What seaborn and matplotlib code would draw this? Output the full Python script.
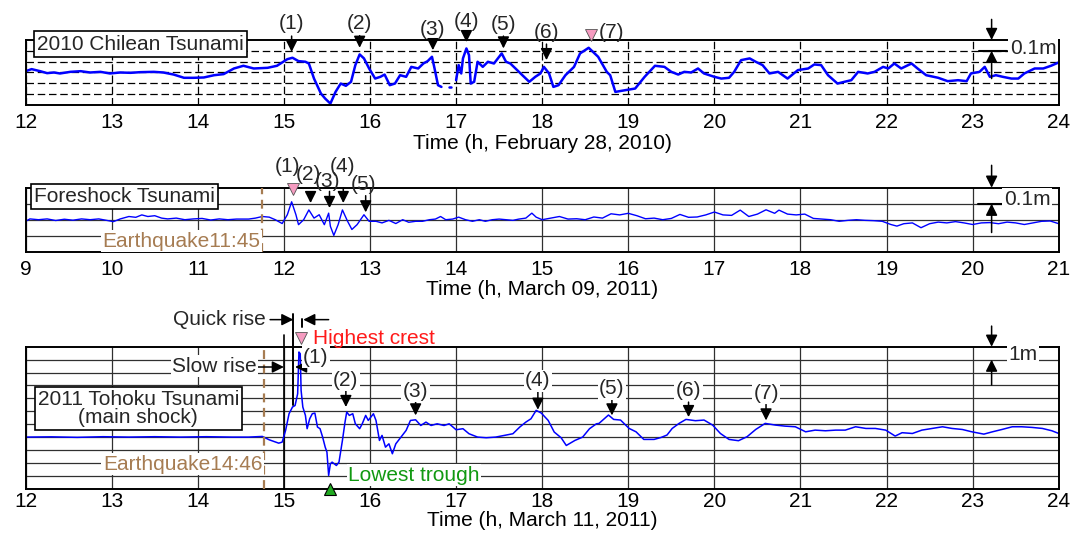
import numpy as np
import pandas as pd
import matplotlib
matplotlib.use("Agg")
import matplotlib.pyplot as plt
import seaborn as sns

# ---------------- data (hours, metres) ----------------
chile_t = [12.00, 12.07, 12.17, 12.25, 12.33, 12.40, 12.52, 12.64, 12.75, 12.87,
           12.98, 13.10, 13.22, 13.33, 13.49, 13.60, 13.72, 13.84, 13.95, 14.07,
           14.19, 14.30, 14.42, 14.53, 14.65, 14.81, 14.92, 15.04, 15.10, 15.17,
           15.25, 15.29, 15.35, 15.43, 15.48, 15.54, 15.60, 15.66, 15.72, 15.78,
           15.83, 15.88, 15.93, 15.99, 16.06, 16.12, 16.17, 16.23, 16.29, 16.35,
           16.42, 16.48, 16.56, 16.62, 16.67, 16.72, 16.75, 16.79, 16.83, 16.87,
           16.92, 16.94, 16.96, 17.00, 17.03, 17.06, 17.08, 17.12, 17.15, 17.17,
           17.21, 17.25, 17.31, 17.37, 17.44, 17.53, 17.58, 17.63, 17.69, 17.77,
           17.85, 17.92, 17.98, 18.02, 18.08, 18.13, 18.19, 18.27, 18.37, 18.44,
           18.54, 18.65, 18.75, 18.79, 18.85, 18.96, 19.08, 19.19, 19.31, 19.42,
           19.50, 19.58, 19.65, 19.73, 19.81, 19.88, 20.00, 20.08, 20.17, 20.23,
           20.31, 20.41, 20.48, 20.56, 20.64, 20.74, 20.85, 20.97, 21.09, 21.16,
           21.24, 21.32, 21.43, 21.51, 21.59, 21.67, 21.78, 21.86, 21.96, 22.02,
           22.09, 22.17, 22.29, 22.36, 22.46, 22.60, 22.71, 22.83, 22.93, 22.98,
           23.08, 23.14, 23.20, 23.27, 23.35, 23.45, 23.53, 23.60, 23.72, 23.82,
           23.91, 24.00]
chile_v = [0.012, 0.031, 0.012, -0.006, 0.000, -0.009, 0.006, 0.012, 0.000, 0.006,
           -0.009, 0.000, -0.003, 0.003, 0.006, 0.000, -0.019, -0.049, -0.049, -0.046,
           -0.025, -0.015, 0.037, 0.062, 0.037, 0.043, 0.062, 0.123, 0.136, 0.105,
           0.099, 0.083, -0.056, -0.194, -0.241, -0.287, -0.179, -0.102, -0.123, -0.086,
           0.068, 0.167, 0.130, 0.037, -0.056, -0.040, -0.019, -0.117, -0.102, -0.025,
           -0.040, 0.052, 0.037, 0.083, 0.105, 0.145, 0.037, -0.117, -0.133, np.nan,
           -0.133, -0.133, np.nan, -0.071, 0.068, -0.009, 0.130, 0.222, 0.160, -0.102,
           -0.086, 0.099, 0.052, 0.099, 0.083, 0.176, 0.099, 0.083, 0.037, -0.025,
           -0.086, -0.040, -0.009, 0.052, -0.009, -0.133, -0.117, -0.025, 0.052, 0.176,
           0.228, 0.145, 0.006, -0.025, -0.179, -0.164, -0.148, -0.040, 0.062, 0.052,
           0.006, -0.019, 0.006, 0.000, 0.037, -0.009, -0.040, -0.056, -0.049, 0.006,
           0.114, 0.130, 0.099, 0.068, -0.009, 0.006, -0.056, 0.022, 0.037, 0.074,
           0.068, -0.025, -0.102, -0.086, -0.071, 0.006, -0.009, 0.006, 0.052, 0.037,
           0.083, 0.037, 0.083, 0.037, -0.025, -0.049, -0.080, -0.071, -0.080, -0.009,
           0.006, 0.052, -0.040, -0.025, -0.040, -0.056, -0.056, -0.009, 0.037, 0.037,
           0.062, 0.093]

fore_t = [9.00, 9.05, 9.15, 9.25, 9.35, 9.45, 9.55, 9.65, 9.75, 9.85,
          9.95, 10.02, 10.10, 10.20, 10.28, 10.35, 10.42, 10.50, 10.58, 10.65,
          10.75, 10.85, 10.95, 11.05, 11.15, 11.25, 11.35, 11.45, 11.59, 11.67,
          11.75, 11.83, 11.90, 11.98, 12.04, 12.09, 12.14, 12.17, 12.23, 12.29,
          12.35, 12.41, 12.47, 12.52, 12.54, 12.58, 12.63, 12.68, 12.74, 12.79,
          12.85, 12.93, 12.99, 13.07, 13.14, 13.22, 13.30, 13.38, 13.45, 13.53,
          13.61, 13.69, 13.76, 13.82, 13.88, 13.96, 14.03, 14.11, 14.19, 14.27,
          14.34, 14.42, 14.50, 14.58, 14.66, 14.73, 14.81, 14.88, 14.93, 15.00,
          15.10, 15.20, 15.30, 15.40, 15.50, 15.60, 15.70, 15.80, 15.90, 16.00,
          16.10, 16.20, 16.30, 16.40, 16.50, 16.60, 16.70, 16.80, 16.90, 17.00,
          17.10, 17.20, 17.30, 17.40, 17.50, 17.60, 17.70, 17.75, 17.85, 17.95,
          18.05, 18.15, 18.25, 18.35, 18.45, 18.55, 18.65, 18.75, 18.85, 18.95,
          19.05, 19.12, 19.20, 19.30, 19.40, 19.50, 19.60, 19.70, 19.80, 19.90,
          20.00, 20.10, 20.20, 20.30, 20.40, 20.50, 20.60, 20.70, 20.80, 20.90, 21.00]
fore_v = [-0.010, 0.005, 0.000, 0.005, -0.005, 0.003, -0.003, 0.005, 0.000, 0.005,
          -0.005, -0.012, 0.005, 0.020, 0.015, 0.030, 0.020, 0.025, 0.010, 0.005,
          0.010, 0.000, 0.005, 0.008, -0.002, 0.005, 0.000, 0.004, 0.004, 0.010,
          0.020, 0.016, 0.000, -0.024, 0.031, 0.112, 0.031, -0.031, 0.000, 0.061,
          0.010, 0.031, -0.031, 0.041, -0.041, -0.098, -0.031, 0.061, -0.010, -0.061,
          -0.031, 0.031, -0.010, -0.010, -0.020, -0.004, -0.024, 0.000, -0.016, -0.010,
          -0.010, 0.000, 0.004, 0.020, 0.000, 0.004, 0.016, 0.000, -0.010, 0.000,
          -0.010, 0.000, 0.004, 0.000, -0.004, 0.004, 0.010, 0.041, 0.016, 0.000,
          0.010, 0.020, 0.004, 0.006, 0.000, 0.017, 0.010, 0.037, 0.030, 0.040,
          0.025, 0.006, 0.010, 0.000, 0.008, 0.033, 0.015, 0.017, 0.030, 0.048,
          0.030, 0.027, 0.060, 0.020, 0.035, 0.062, 0.040, 0.060, 0.035, 0.030,
          0.035, 0.008, 0.004, 0.000, -0.010, -0.004, 0.000, -0.004, -0.006, -0.010,
          -0.030, -0.040, -0.025, -0.020, -0.050, -0.025, -0.015, -0.020, -0.012, -0.020,
          -0.030, -0.020, -0.018, -0.025, -0.015, -0.020, -0.030, -0.020, -0.010, -0.008, -0.025]

toho_t = [12.00, 12.30, 12.60, 12.90, 13.20, 13.50, 13.80, 14.10, 14.40, 14.59,
          14.75, 14.83, 14.94, 14.98, 15.02, 15.06, 15.10, 15.13, 15.16, 15.175,
          15.19, 15.20, 15.22, 15.25, 15.27, 15.30, 15.33, 15.36, 15.39, 15.42,
          15.45, 15.48, 15.50, 15.52, 15.54, 15.56, 15.61, 15.64, 15.68, 15.71,
          15.73, 15.76, 15.80, 15.83, 15.88, 15.91, 15.95, 15.98, 16.04, 16.07,
          16.11, 16.14, 16.18, 16.22, 16.26, 16.30, 16.36, 16.42, 16.47, 16.53,
          16.59, 16.65, 16.71, 16.78, 16.86, 16.92, 17.00, 17.08, 17.15, 17.25,
          17.35, 17.46, 17.56, 17.66, 17.74, 17.81, 17.87, 17.93, 17.99, 18.07,
          18.14, 18.22, 18.28, 18.38, 18.47, 18.55, 18.63, 18.66, 18.77, 18.83,
          18.91, 19.01, 19.09, 19.18, 19.30, 19.38, 19.45, 19.51, 19.59, 19.67,
          19.78, 19.88, 19.98, 20.07, 20.17, 20.28, 20.38, 20.48, 20.59, 20.71,
          20.82, 20.94, 21.06, 21.17, 21.29, 21.41, 21.52, 21.64, 21.76, 21.87,
          21.99, 22.10, 22.18, 22.30, 22.41, 22.53, 22.65, 22.76, 22.88, 22.99,
          23.13, 23.23, 23.34, 23.46, 23.57, 23.69, 23.81, 23.92, 24.00]
toho_v = [0.00, 0.02, -0.02, 0.03, 0.00, 0.03, 0.00, 0.03, 0.00, 0.00,
          0.05, -0.21, -0.47, -0.39, 0.52, 1.81, 2.33, 2.45, 3.36, 6.59,
          6.46, 3.62, 2.33, 1.68, 0.65, 1.42, 1.81, 1.86, 0.78, 0.65,
          0.00, -0.78, -1.16, -2.97, -2.07, -1.94, -2.20, -1.94, -0.26, 1.16,
          1.94, 1.68, 1.81, 1.03, 0.65, 1.03, 1.68, 1.29, 1.81, 1.29,
          -0.26, 0.13, -0.78, -0.52, -1.29, -0.52, 0.00, 0.52, 1.29, 1.34,
          0.90, 1.16, 0.90, 1.03, 0.90, 1.03, 0.57, 0.65, 0.26, 0.00,
          -0.05, 0.00, 0.13, 0.26, 0.78, 1.16, 1.42, 2.07, 1.86, 1.29,
          0.39, -0.05, -0.65, -0.26, 0.00, 0.65, 1.03, 1.06, 1.71, 1.37,
          1.32, 0.67, 0.41, -0.18, -0.18, -0.03, 0.16, 0.67, 1.06, 1.37,
          1.27, 1.32, 0.93, 0.28, -0.18, -0.28, 0.03, 0.59, 1.06, 0.93,
          0.85, 0.80, 0.41, 0.54, 0.49, 0.54, 0.54, 0.80, 0.67, 0.67,
          0.54, 0.08, 0.34, 0.28, 0.54, 0.67, 0.80, 0.67, 0.59, 0.41,
          0.23, 0.41, 0.59, 0.80, 0.80, 0.75, 0.67, 0.49, 0.28]

# annotation arrows: time, arrow tip level, arrow tail level, label level
chile_labels = ["(1)", "(2)", "(3)", "(4)", "(5)", "(6)"]
chile_arr_t = [15.09, 15.88, 16.73, 17.12, 17.55, 18.05]
chile_tip = [0.19, 0.228, 0.206, 0.28, 0.222, 0.114]
chile_tail = [0.336, 0.34, 0.29, 0.364, 0.336, 0.262]
chile_lab = [0.453, 0.456, 0.398, 0.471, 0.44, 0.366]
chile_crest = (18.57, 0.345)

fore_labels = ["(2)", "(3)", "(4)", "(5)"]
fore_arr_t = [12.31, 12.53, 12.69, 12.95]
fore_tip = [0.104, 0.073, 0.104, 0.046]
fore_tail = [0.167, 0.177, 0.198, 0.15]
fore_lab_t = [12.29, 12.51, 12.68, 12.92]
fore_lab = [0.28, 0.24, 0.333, 0.219]
fore_crest = (12.11, 0.19)

toho_labels = ["(2)", "(3)", "(4)", "(5)", "(6)", "(7)"]
toho_arr_t = [15.72, 16.53, 17.95, 18.81, 19.70, 20.60]
toho_tip = [2.33, 1.68, 2.12, 1.68, 1.55, 1.29]
toho_tail = [3.62, 2.84, 3.57, 3.0, 2.71, 2.53]
toho_lab = [4.4, 3.57, 4.37, 3.75, 3.62, 3.41]

quake_fore = 11.75      # 11:45
quake_main = 14.7667    # 14:46

# ---------------- styling ----------------
sns.set_theme(style="white")
plt.rcParams["font.family"] = ["Liberation Sans", "DejaVu Sans"]
plt.rcParams["font.size"] = 15

BLUE = "#0000ff"
BROWN = "#a67c52"
PINK = "#f59bc0"
HEAD = "-|>,head_length=0.5,head_width=0.25"

fig = plt.figure(figsize=(10.75, 5.36), dpi=100)
ax1 = fig.add_axes([0.0238, 0.8041, 0.9611, 0.1213])
ax2 = fig.add_axes([0.0238, 0.5304, 0.9611, 0.1194])
ax3 = fig.add_axes([0.0238, 0.0882, 0.9611, 0.2649])


def draw_series(ax, t, v, lw):
    df = pd.DataFrame({"t": t, "v": v})
    df["seg"] = np.cumsum(df["v"].isna())
    df = df.dropna()
    sns.lineplot(data=df, x="t", y="v", units="seg", estimator=None, sort=False,
                 color=BLUE, lw=lw, ax=ax, legend=False, zorder=2)


def frame(ax, x0, x1, ylim, yticks, dashed, xlabel, pad=6, labelpad=1):
    ax.set_xlim(x0, x1)
    ax.set_ylim(*ylim)
    ax.set_xticks(range(x0, x1 + 1))
    ax.set_yticks(yticks)
    ax.set_yticklabels([])
    ax.tick_params(axis="both", length=0, pad=pad, labelsize=15, colors="black")
    ax.set_axisbelow(True)
    if dashed:
        ax.grid(True, color="black", lw=0.9, ls=(0, (6, 3)))
    else:
        ax.grid(True, color="#303030", lw=0.9, ls="-")
    for s in ax.spines.values():
        s.set_visible(True)
        s.set_color("black")
        s.set_linewidth(1.4)
    ax.set_ylabel("")
    ax.set_xlabel(xlabel, fontsize=15, labelpad=labelpad, color="black")


def arrow(ax, p_from, p_to):
    ax.annotate("", xy=p_to, xytext=p_from, annotation_clip=False,
                arrowprops=dict(arrowstyle=HEAD, color="black", lw=1.1,
                                mutation_scale=14, shrinkA=0, shrinkB=0))


WHITE = dict(fc="white", ec="none", pad=1)

# ---------- panel 1: Chilean ----------
draw_series(ax1, chile_t, chile_v, 1.8)
frame(ax1, 12, 24, (-0.3, 0.3), [-0.2, -0.1, 0, 0.1, 0.2], True,
      "Time (h, February 28, 2010)")
ax1.text(12.13, 0.262, "2010 Chilean Tsunami", ha="left", va="center", zorder=5,
         bbox=dict(boxstyle="square,pad=0.15", fc="white", ec="black", lw=1.2))
for lab, t, tip, tail, ly in zip(chile_labels, chile_arr_t, chile_tip, chile_tail, chile_lab):
    arrow(ax1, (t, tail), (t, tip))
    ax1.text(t, ly, lab, ha="center", va="center", clip_on=False)
ax1.plot(*chile_crest, marker="v", ms=8, mfc=PINK, mec="#555555", mew=0.6, clip_on=False, zorder=6)
ax1.text(chile_crest[0] + 0.23, 0.366, "(7)", ha="center", va="center", clip_on=False)
arrow(ax1, (23.22, 0.49), (23.22, 0.30))
arrow(ax1, (23.22, -0.056), (23.22, 0.20))
ax1.plot([23.07, 23.40], [0.2, 0.2], color="black", lw=1.5, clip_on=False, zorder=4)
ax1.text(23.43, 0.218, "0.1m", ha="left", va="center", bbox=WHITE, zorder=5)

# ---------- panel 2: Foreshock ----------
draw_series(ax2, fore_t, fore_v, 1.0)
frame(ax2, 9, 21, (-0.2, 0.2), [-0.1, 0, 0.1], False, "Time (h, March 09, 2011)")
ax2.axvline(quake_fore, color=BROWN, lw=1.6, ls=(0, (4, 2.5)), zorder=3)
ax2.text(quake_fore - 0.02, -0.134, "Earthquake11:45", color=BROWN, ha="right",
         va="center", bbox=WHITE, zorder=4)
ax2.text(9.1, 0.145, "Foreshock Tsunami", ha="left", va="center", zorder=5,
         bbox=dict(boxstyle="square,pad=0.15", fc="white", ec="black", lw=1.2))
ax2.plot(*fore_crest, marker="v", ms=8, mfc=PINK, mec="#555555", mew=0.6, clip_on=False, zorder=6)
ax2.text(12.04, 0.333, "(1)", ha="center", va="center", clip_on=False)
for lab, t, tip, tail, lt, ly in zip(fore_labels, fore_arr_t, fore_tip, fore_tail, fore_lab_t, fore_lab):
    arrow(ax2, (t, tail), (t, tip))
    ax2.text(lt, ly, lab, ha="center", va="center", clip_on=False)
arrow(ax2, (20.22, 0.34), (20.22, 0.20))
arrow(ax2, (20.22, -0.08), (20.22, 0.10))
ax2.plot([20.06, 20.48], [0.1, 0.1], color="black", lw=1.5, clip_on=False, zorder=4)
ax2.text(20.36, 0.128, "0.1m", ha="left", va="center", bbox=WHITE, zorder=5)

# ---------- panel 3: Tohoku ----------
draw_series(ax3, toho_t, toho_v, 1.1)
frame(ax3, 12, 24, (-4, 7), list(range(-3, 7)), False, "Time (h, March 11, 2011)",
      pad=2, labelpad=0)
ax3.axvline(quake_main, color=BROWN, lw=1.6, ls=(0, (4, 2.5)), zorder=3)
ax3.text(14.75, -2.1, "Earthquake14:46", color=BROWN, ha="right", va="center",
         bbox=WHITE, zorder=4)
ax3.text(13.31, 2.2, "2011 Tohoku Tsunami\n(main shock)", ha="center", va="center",
         multialignment="center", linespacing=0.95, zorder=5,
         bbox=dict(boxstyle="square,pad=0.15", fc="white", ec="black", lw=1.2))
for lab, t, tip, tail, ly in zip(toho_labels, toho_arr_t, toho_tip, toho_tail, toho_lab):
    arrow(ax3, (t, tail), (t, tip))
    ax3.text(t, ly, lab, ha="center", va="center", bbox=WHITE, zorder=4)
# quick rise / slow rise markers
ax3.text(14.79, 9.1, "Quick rise", ha="right", va="center", clip_on=False)
arrow(ax3, (14.84, 9.1), (15.11, 9.1))
ax3.plot([15.11, 15.11], [9.57, 2.46], color="black", lw=1.4, clip_on=False, zorder=4)
ax3.plot([15.21, 15.21], [9.18, 8.53], color="black", lw=1.4, clip_on=False, zorder=4)
arrow(ax3, (15.52, 9.1), (15.225, 9.1))
ax3.plot([15.0, 15.0], [7.88, -4], color="black", lw=1.2, clip_on=False, zorder=1)
ax3.text(14.684, 5.5, "Slow rise", ha="right", va="center", bbox=WHITE, zorder=4)
arrow(ax3, (14.70, 5.43), (15.0, 5.43))
arrow(ax3, (15.32, 5.43), (15.13, 5.43))
ax3.plot(15.195, 7.69, marker="v", ms=8, mfc=PINK, mec="#555555", mew=0.6, clip_on=False, zorder=6)
ax3.text(15.34, 7.67, "Highest crest", color="#ff1a1a", ha="left", va="center", clip_on=False)
ax3.text(15.37, 6.2, "(1)", ha="center", va="center", bbox=WHITE, zorder=4)
ax3.plot(15.53, -4, marker="^", ms=9, mfc="#22aa22", mec="black", mew=0.8, clip_on=False, zorder=6)
ax3.text(15.75, -2.97, "Lowest trough", color="#119911", ha="left", va="center",
         bbox=WHITE, zorder=4)
arrow(ax3, (23.22, 8.6), (23.22, 7.0))
arrow(ax3, (23.22, 4.04), (23.22, 6.0))
ax3.text(23.41, 6.41, "1m", ha="left", va="center", bbox=WHITE, zorder=5)

fig.savefig("out.png", dpi=100)
